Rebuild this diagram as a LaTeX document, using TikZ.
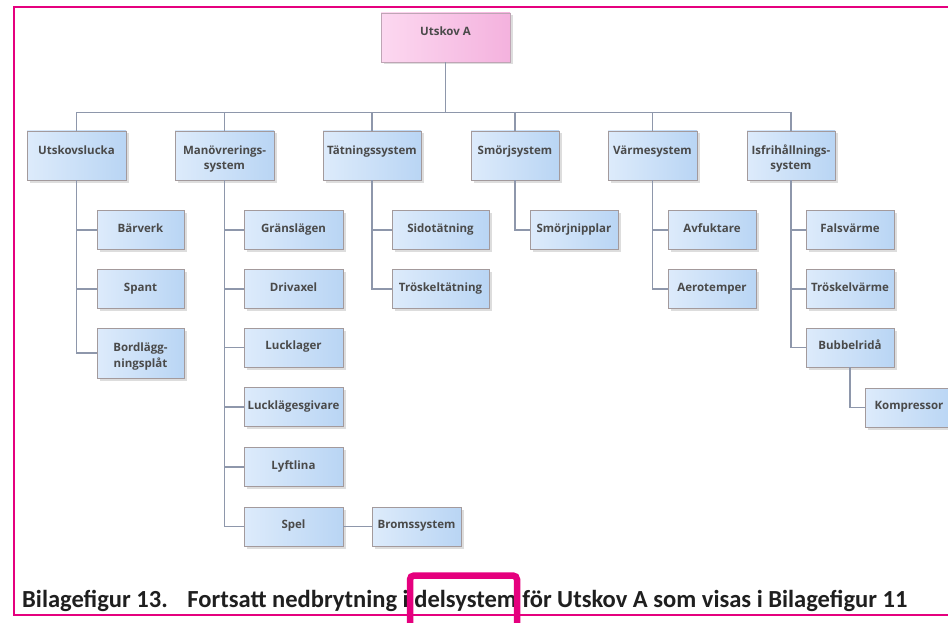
\documentclass[tikz,border=0pt]{standalone}
\usepackage{fontspec}
\setmainfont{Open Sans}
\newfontfamily\capfont{Carlito}
\usetikzlibrary{shadows}
\definecolor{boxL}{HTML}{DDEBFB}
\definecolor{boxR}{HTML}{B9D5F4}
\definecolor{boxB}{HTML}{A39A9C}
\definecolor{pinkL}{HTML}{FCD8F0}
\definecolor{pinkR}{HTML}{F4B2DE}
\definecolor{pinkB}{HTML}{BFA5B5}
\definecolor{conn}{HTML}{8E97AB}
\definecolor{txt}{HTML}{4A4A4A}
\definecolor{frame}{HTML}{E5007E}
\newcommand{\bx}[2]{\raisebox{#1}[\height][\depth]{\begin{tabular}{@{}c@{}}#2\end{tabular}}}
\tikzset{
  box/.style={rectangle, draw=boxB, line width=0.9pt, left color=boxL, right color=boxR,
    inner sep=1pt, align=center, text=txt, font=\fontsize{11.5}{16}\selectfont\bfseries,
    drop shadow={shadow xshift=2.5pt, shadow yshift=-2.5pt, fill=black!22, opacity=0.6}},
  rootbox/.style={box, draw=pinkB, left color=pinkL, right color=pinkR},
  wire/.style={draw=conn, line width=1.3pt},
}
\begin{document}
\begin{tikzpicture}[x=1pt, y=-1pt]
\useasboundingbox (0,0) rectangle (948,623);
\clip (0,0) rectangle (948,623);
\fill[white] (0,0) rectangle (948,623);
% root
\node[rootbox, minimum width=129pt, minimum height=49pt] (root) at (445.5,37.5) {\bx{4.7pt}{Utskov A}};
% level 1
\begin{scope}[every node/.append style={minimum height=49pt}]
\node[box, minimum width=99pt] (u) at (76.5,155.5) {\bx{4.7pt}{Utskovslucka}};
\node[box, minimum width=99pt] (m) at (224.5,155.5) {\bx{-3.3pt}{Manövrerings-\\system}};
\node[box, minimum width=98pt] (t) at (372,155.5) {\bx{4.7pt}{Tätningssystem}};
\node[box, minimum width=88pt] (s) at (515,155.5) {\bx{4.7pt}{Smörjsystem}};
\node[box, minimum width=89pt] (v) at (652.5,155.5) {\bx{4.7pt}{Värmesystem}};
\node[box, minimum width=88pt] (i) at (791,155.5) {\bx{-3.3pt}{Isfrihållnings-\\system}};
\end{scope}
% level 2
\begin{scope}[every node/.append style={minimum height=39pt}]
\node[box, minimum width=87pt] (u1) at (140.5,230) {\bx{1.2pt}{Bärverk}};
\node[box, minimum width=87pt] (u2) at (140.5,289) {\bx{1.2pt}{Spant}};
\node[box, minimum width=87pt, minimum height=50pt] (u3) at (140.5,353) {\bx{-2.8pt}{Bordlägg-\\ningsplåt}};
\node[box, minimum width=99pt] (m1) at (293.5,230) {\bx{1.2pt}{Gränslägen}};
\node[box, minimum width=99pt] (m2) at (293.5,289) {\bx{1.2pt}{Drivaxel}};
\node[box, minimum width=99pt] (m3) at (293.5,347.5) {\bx{1.2pt}{Lucklager}};
\node[box, minimum width=99pt] (m4) at (293.5,407) {\bx{1.2pt}{Lucklägesgivare}};
\node[box, minimum width=99pt] (m5) at (293.5,467) {\bx{1.2pt}{Lyftlina}};
\node[box, minimum width=99pt] (m6) at (293.5,526.5) {\bx{1.2pt}{Spel}};
\node[box, minimum width=89pt] (m7) at (416.5,526.5) {\bx{1.2pt}{Bromssystem}};
\node[box, minimum width=97pt] (t1) at (440.5,230) {\bx{1.2pt}{Sidotätning}};
\node[box, minimum width=97pt] (t2) at (440.5,289) {\bx{1.2pt}{Tröskeltätning}};
\node[box, minimum width=88pt] (s1) at (574,230) {\bx{1.2pt}{Smörjnipplar}};
\node[box, minimum width=88pt] (v1) at (712,230) {\bx{1.2pt}{Avfuktare}};
\node[box, minimum width=88pt] (v2) at (712,289) {\bx{1.2pt}{Aerotemper}};
\node[box, minimum width=88pt] (i1) at (850,230) {\bx{1.2pt}{Falsvärme}};
\node[box, minimum width=88pt] (i2) at (850,289) {\bx{1.2pt}{Tröskelvärme}};
\node[box, minimum width=88pt] (i3) at (850,347.5) {\bx{1.2pt}{Bubbelridå}};
\node[box, minimum width=88pt] (i4) at (909,407.5) {\bx{1.2pt}{Kompressor}};
\end{scope}
% connectors
\foreach \n in {u,m,t,s,v,i}{
  \draw[wire] (root.south) -- ++(0,50) -| (\n.north);
}
\foreach \p/\c in {u/u1,u/u2,u/u3,m/m1,m/m2,m/m3,m/m4,m/m5,m/m6,t/t1,t/t2,s/s1,v/v1,v/v2,i/i1,i/i2,i/i3,i3/i4}{
  \draw[wire] (\p.south) |- (\c.west);
}
\draw[wire] (m6.east) -- (m7.west);
% frame
\draw[frame, line width=2pt] (960,7) -- (14,7) -- (14,615) -- (960,615);
% caption
\node[anchor=base west, inner sep=0pt, text=black!88] (cap) at (22,607)
  {\resizebox{885pt}{!}{\capfont\bfseries Bilagefigur 13.\hspace{0.8em}Fortsatt nedbrytning i delsystem för Utskov A som visas i Bilagefigur 11}};
\draw[frame, line width=6.5pt, rounded corners=4pt] (410,640) -- (410,575.5) -- (517,575.5) -- (517,640);
\end{tikzpicture}
\end{document}
